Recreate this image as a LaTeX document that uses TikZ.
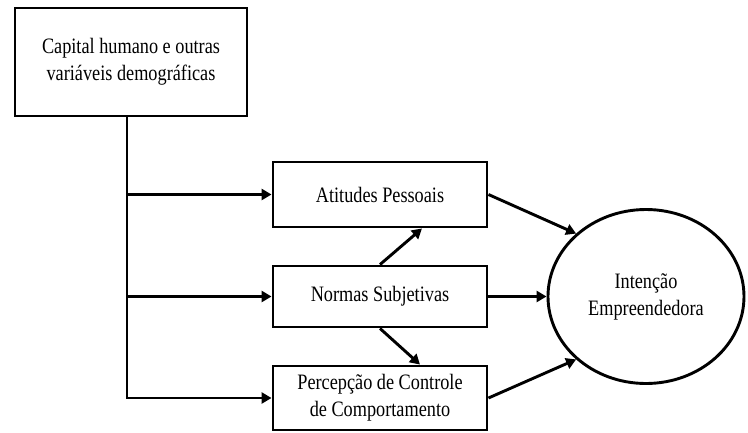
\documentclass[tikz,border=0pt]{standalone}
\usepackage{fontspec}
\setmainfont[FakeStretch=0.83]{Liberation Serif}
\usepackage{tikz}
\usetikzlibrary{arrows.meta, positioning, shapes.geometric}

\begin{document}
\begin{tikzpicture}[x=1pt,y=-1pt,on grid,line width=2.9pt,>={Triangle[length=10pt,width=11pt]},
        every node/.style={font=\fontsize{22}{27}\selectfont},
        var/.style={draw,rectangle,align=center,minimum width=214pt,inner sep=0pt},
        latent/.style={draw,ellipse,align=center,minimum width=196pt,minimum height=174pt,inner sep=0pt}]

  \useasboundingbox (0,0) rectangle (748,432);

  \node[draw,rectangle,align=center,minimum width=232pt,minimum height=108pt] (cap) at (131,62)
        {Capital humano e outras\\variáveis demográficas};
  \node[var,minimum height=65pt] (att) at (380,194.5) {Atitudes Pessoais};
  \node[var,minimum height=61pt] (norm) [below=102pt of att] {Normas Subjetivas};
  \node[var,minimum height=64pt] (perc) [below=101.5pt of norm] {Percepção de Controle\\de Comportamento};
  \node[latent] (int) [right=266pt of norm] {Intenção\\Empreendedora};

  \coordinate (branch) at (127,399);

  \draw (cap.south -| branch) -- (branch);
  \draw[->] (att.west -| branch) -- (att.west);
  \draw[->] (norm.west -| branch) -- (norm.west);
  \draw[->] (perc.west -| branch) -- (perc.west);

  \path[->] (norm.north) edge ([xshift=42pt]att.south)
            (norm.south) edge ([xshift=40pt]perc.north)
            (att.east)   edge (int.138)
            (norm)       edge (int)
            (perc.east)  edge (int.222);
\end{tikzpicture}
\end{document}
